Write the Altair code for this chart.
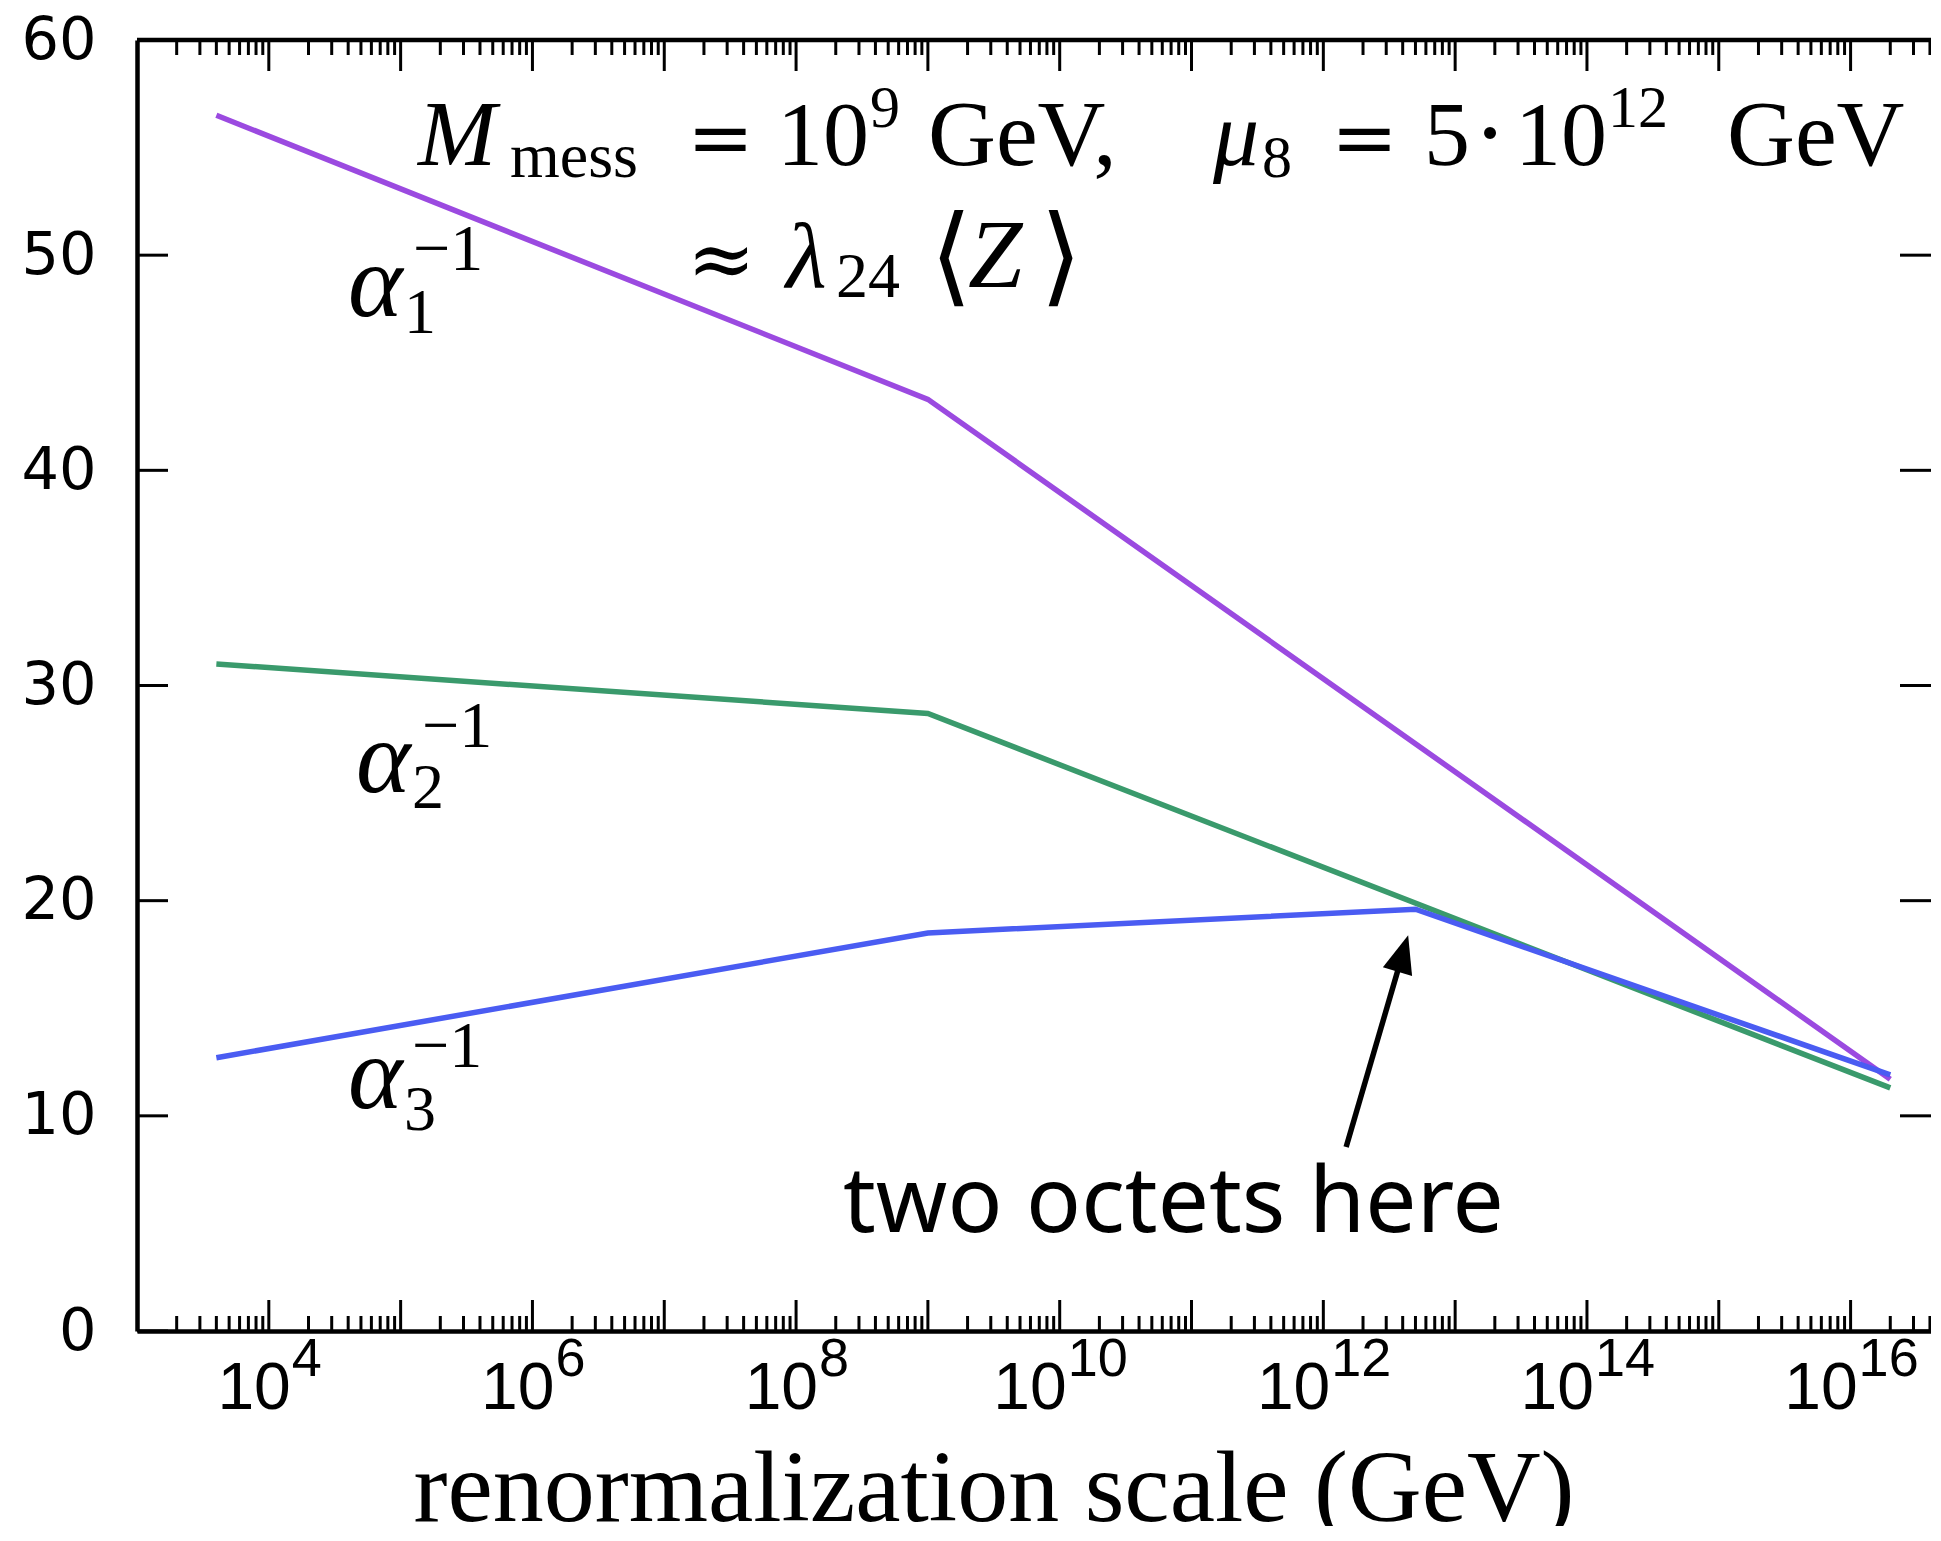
import altair as alt
import pandas as pd

# ---------------- data ----------------
series_names = ["a1", "a2", "a3"]
series_colors = ["#9b4ae0", "#3a9a6c", "#4a5cf2"]

mu_a1 = [4e3, 1e9, 2e16]
val_a1 = [56.5, 43.3, 11.7]
mu_a2 = [4e3, 1e9, 2e16]
val_a2 = [31.0, 28.7, 11.3]
mu_a3 = [4e3, 1e9, 5e12, 2e16]
val_a3 = [12.7, 18.5, 19.6, 11.9]

y_tick_values = [0, 10, 20, 30, 40, 50, 60]
x_label_exps_1digit = [4, 6, 8]
x_label_exps_2digit = [10, 12, 14, 16]

# arrow (data coordinates): tail and head centre
arrow_tail = (10 ** 12.173, 8.55)
arrow_head = (10 ** 12.603, 17.55)

# ---------------- layout ----------------
W, H = 1794, 1291
OX, OY = 137, 40  # plot origin on the page
X_MAX = 10 ** 16.61

xscale = alt.Scale(type="log", domain=[1e3, X_MAX], nice=False)
yscale = alt.Scale(domain=[0, 60], nice=False, zero=False)

X_AXIS = alt.Axis(domain=True, domainColor="black", domainWidth=4.5,
                  ticks=False, tickSize=0, labels=False, grid=False, title=None)
Y_AXIS = alt.Axis(values=y_tick_values, domain=True, domainColor="black",
                  domainWidth=4.5, ticks=False, tickSize=0,
                  labelFont="DejaVu Sans", labelFontSize=59,
                  labelColor="black", labelPadding=41, grid=False, title=None)

rows = []
for name, xs, ys in [("a1", mu_a1, val_a1), ("a2", mu_a2, val_a2), ("a3", mu_a3, val_a3)]:
    for xv, yv in zip(xs, ys):
        rows.append({"s": name, "mu": xv, "a": yv})
df = pd.DataFrame(rows)

lines = alt.Chart(df).mark_line(strokeWidth=5.5).encode(
    x=alt.X("mu:Q", scale=xscale, axis=X_AXIS),
    y=alt.Y("a:Q", scale=yscale, axis=Y_AXIS),
    color=alt.Color("s:N", scale=alt.Scale(domain=series_names, range=series_colors),
                    legend=None),
)

# ticks (inward, gnuplot style)
major_x = [10 ** n for n in range(4, 17)]
minor_x = [k * 10 ** n for n in range(3, 17) for k in range(2, 10) if k * 10 ** n <= X_MAX]
df_major = pd.DataFrame({"v": major_x})
df_minor = pd.DataFrame({"v": minor_x})
df_yt = pd.DataFrame({"v": y_tick_values})

def xticks(d, y0, y1):
    return alt.Chart(d).mark_rule(color="black", strokeWidth=3).encode(
        x=alt.X("v:Q", scale=xscale, axis=X_AXIS),
        y=alt.value(y0), y2=alt.value(y1))

def yticks(x0, x1):
    return alt.Chart(df_yt).mark_rule(color="black", strokeWidth=3).encode(
        y=alt.Y("v:Q", scale=yscale, axis=Y_AXIS),
        x=alt.value(x0), x2=alt.value(x1))

tick_layers = [
    xticks(df_major, H, H - 31), xticks(df_minor, H, H - 15),
    xticks(df_major, 0, 31), xticks(df_minor, 0, 15),
    yticks(0, 31), yticks(W - 31, W),
]

one = alt.Data(values=[{"k": 1}])
top_frame = alt.Chart(one).mark_rule(color="black", strokeWidth=4.5).encode(
    x=alt.value(0), x2=alt.value(W), y=alt.value(0))

# x tick labels 10^n
def xlabels(exps, shift):
    d = pd.DataFrame({"v": [10.0 ** e for e in exps], "e": [str(e) for e in exps]})
    base = alt.Chart(d).mark_text(text="10", align="right", baseline="alphabetic",
                                  dx=shift, font="Liberation Sans", fontSize=66,
                                  color="black").encode(
        x=alt.X("v:Q", scale=xscale, axis=X_AXIS), y=alt.value(1409 - OY))
    sup = alt.Chart(d).mark_text(align="left", baseline="alphabetic", dx=shift + 1,
                                 font="Liberation Sans", fontSize=54,
                                 color="black").encode(
        x=alt.X("v:Q", scale=xscale, axis=X_AXIS), y=alt.value(1376 - OY), text="e:N")
    return [base, sup]

label_layers = xlabels(x_label_exps_1digit, 22) + xlabels(x_label_exps_2digit, 7)

# free text pieces
def txt(s, px, py, size, font="Liberation Serif", style="normal", align="left"):
    return alt.Chart(one).mark_text(text=s, align=align, baseline="alphabetic",
                                    font=font, fontSize=size, fontStyle=style,
                                    color="black").encode(
        x=alt.value(px - OX), y=alt.value(py - OY))

DJ = "DejaVu Serif"
L1, L1SUB, L1SUP = 165, 177, 127
texts = [
    # line 1
    txt("M", 418, L1, 94, style="italic"),
    txt("mess", 510, L1SUB, 64),
    txt("=", 687, L1, 80, font=DJ),
    txt("10", 777, L1, 92),
    txt("9", 870, L1SUP, 60),
    txt("GeV,", 928, L1, 94),
    txt("μ", 1213, L1, 92, style="italic"),
    txt("8", 1262, L1SUB, 60),
    txt("=", 1331, L1, 80, font=DJ),
    txt("5", 1424, L1, 92),
    txt("·", 1490, L1, 92, font=DJ, align="center"),
    txt("10", 1515, L1, 92),
    txt("12", 1608, L1SUP, 60),
    txt("GeV", 1727, L1, 94),
    # line 2
    txt("≈", 687, 287, 82, font=DJ),
    txt("λ", 786, 287, 94, style="italic"),
    txt("24", 836, 297, 64),
    txt("⟨", 930, 292, 108, font=DJ),
    txt("Z", 968, 287, 98, style="italic"),
    txt("⟩", 1040, 292, 108, font=DJ),
    # alpha labels
    txt("α", 348, 316, 104, style="italic"), txt("1", 404, 333, 64), txt("−1", 413, 270, 66),
    txt("α", 356, 792, 104, style="italic"), txt("2", 412, 808, 64), txt("−1", 422, 747, 66),
    txt("α", 348, 1108, 104, style="italic"), txt("3", 404, 1130, 64), txt("−1", 412, 1067, 66),
    # annotation
    txt("two octets here", 843, 1232, 91, font="Noto Sans"),
    # x title
    txt("renormalization scale (GeV)", 994, 1521, 102, align="center"),
]

# arrow
df_arrow = pd.DataFrame({"x1": [arrow_tail[0]], "y1": [arrow_tail[1]],
                         "x2": [arrow_head[0]], "y2": [arrow_head[1]]})
shaft = alt.Chart(df_arrow).mark_rule(color="black", strokeWidth=5.5).encode(
    x=alt.X("x1:Q", scale=xscale, axis=X_AXIS), y=alt.Y("y1:Q", scale=yscale, axis=Y_AXIS),
    x2="x2:Q", y2="y2:Q")
head = alt.Chart(df_arrow).mark_point(shape="M0,-1L0.8,1L-0.8,1Z", filled=True,
                                      size=1444, angle=16.3, color="black",
                                      opacity=1, strokeWidth=0).encode(
    x=alt.X("x2:Q", scale=xscale, axis=X_AXIS), y=alt.Y("y2:Q", scale=yscale, axis=Y_AXIS))

chart = alt.layer(lines, *tick_layers, top_frame, *label_layers, shaft, head, *texts).properties(
    width=W, height=H,
    autosize=alt.AutoSizeParams(type="none"),
    padding={"left": OX - 8, "top": OY - 8, "right": 0, "bottom": 195},
    background="white",
).configure_view(strokeWidth=0)

chart.save("out.html", embed_options={"renderer": "svg", "actions": False})
